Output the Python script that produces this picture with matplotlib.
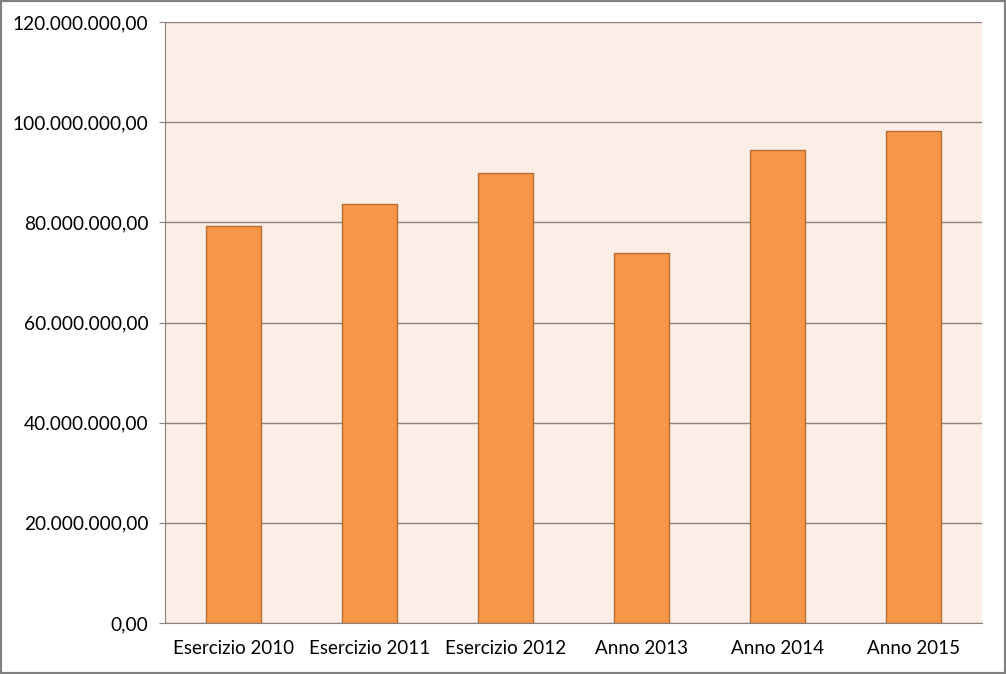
import matplotlib
matplotlib.use("Agg")
import matplotlib.pyplot as plt
from matplotlib.ticker import FuncFormatter
from matplotlib.patches import Rectangle

categories = ["Esercizio 2010", "Esercizio 2011", "Esercizio 2012",
              "Anno 2013", "Anno 2014", "Anno 2015"]
values = [79300000, 83700000, 89900000, 73900000, 94500000, 98300000]
y_ticks = [0, 20000000, 40000000, 60000000, 80000000, 100000000, 120000000]

plt.rcParams['font.family'] = ['Lato', 'DejaVu Sans']


def it_format(v, pos):
    s = f"{v:,.2f}"
    return s.replace(",", "X").replace(".", ",").replace("X", ".")


fig = plt.figure(figsize=(10.06, 6.74), dpi=100)
ax = fig.add_axes([165 / 1006, 51 / 674, 817 / 1006, 601 / 674])
ax.set_facecolor("#fdede7")

x = list(range(len(categories)))
ax.bar(x, values, width=0.404, color="#f79646", edgecolor="#b66d31",
       linewidth=1, zorder=3)

ax.set_xlim(-0.5, len(categories) - 0.5)
ax.set_ylim(0, 120000000)
ax.set_yticks(y_ticks)
ax.yaxis.set_major_formatter(FuncFormatter(it_format))
ax.set_xticks(x)
ax.set_xticklabels(categories)
ax.grid(axis="y", color="#8c817c", linewidth=1, zorder=1)

for side in ["top", "right"]:
    ax.spines[side].set_visible(False)
ax.spines["left"].set_color("#8c817c")
ax.spines["bottom"].set_color("#8c817c")
ax.tick_params(axis="y", length=4, color="#8c817c", labelsize=13.8, pad=8)
ax.tick_params(axis="x", length=0, labelsize=13.5, pad=12)

fig.patches.append(Rectangle((0, 0), 1, 1, transform=fig.transFigure,
                             fill=False, edgecolor="#808080", linewidth=3))

fig.savefig("out.png", dpi=100)
